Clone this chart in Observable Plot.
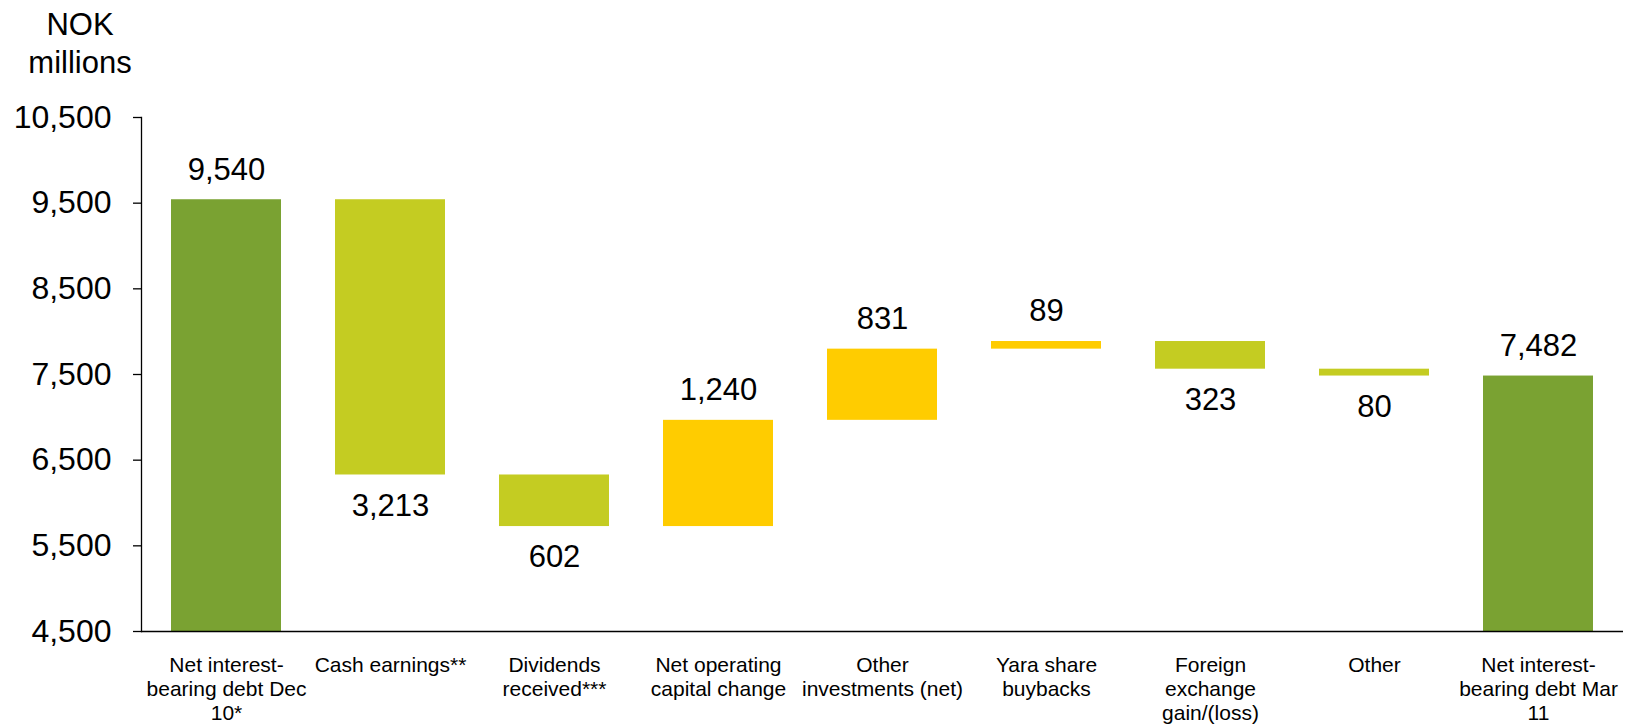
<!DOCTYPE html>
<html>
<head>
<meta charset="utf-8">
<script src="https://cdn.jsdelivr.net/npm/d3@7"></script>
<script src="https://cdn.jsdelivr.net/npm/@observablehq/plot@0.6"></script>
<style>
  html, body { margin: 0; padding: 0; background: #fff; }
  #wrap { position: relative; width: 1626px; height: 728px; font-family: "Liberation Sans", Arial, sans-serif; }
  #unit { position: absolute; left: 0; top: 6px; width: 160px; text-align: center; font-size: 31px; line-height: 38px; color: #000; }
  #chart { position: absolute; left: 0; top: 0; }
</style>
</head>
<body>
<div id="wrap">
  <div id="chart"></div>
  <div id="unit">NOK<br>millions</div>
</div>
<script>
// Data
const categories = [
  "Net interest-\nbearing debt Dec\n10*",
  "Cash earnings**",
  "Dividends\nreceived***",
  "Net operating\ncapital change",
  "Other\ninvestments (net)",
  "Yara share\nbuybacks",
  "Foreign\nexchange\ngain/(loss)",
  "Other",
  "Net interest-\nbearing debt Mar\n11"
];
const changes = [9540, -3213, -602, 1240, 831, 89, -323, -80, 7482];
const kinds = ["total", "decrease", "decrease", "increase", "increase", "increase", "decrease", "decrease", "total"];
const yTicks = [4500, 5500, 6500, 7500, 8500, 9500, 10500];

const colors = { total: "#7aa232", decrease: "#c4cc22", increase: "#ffcc00" };

// Build waterfall rows
let running = 0;
const rows = categories.map((c, i) => {
  const v = changes[i];
  let lo, hi;
  if (kinds[i] === "total") {
    lo = 4500; hi = v; running = v;
  } else {
    const start = running;
    running = start + v;
    lo = Math.min(start, running); hi = Math.max(start, running);
  }
  return { cat: c, value: Math.abs(v), kind: kinds[i], lo, hi, above: kinds[i] !== "decrease" };
});

const chart = Plot.plot({
  width: 1626,
  height: 728,
  marginLeft: 141,
  marginRight: 3,
  marginTop: 117,
  marginBottom: 97,
  style: { fontFamily: "'Liberation Sans', Arial, sans-serif", color: "#000", background: "transparent" },
  x: { domain: categories, paddingInner: 0.33, paddingOuter: 0.165 },
  y: { domain: [4500, 10500] },
  marks: [
    Plot.barY(rows, { x: "cat", y1: "lo", y2: "hi", fill: d => colors[d.kind] }),
    Plot.text(rows.filter(d => d.above), { x: "cat", y: "hi", text: d => d3.format(",")(d.value), dy: -30, fontSize: 31, fill: "#000" }),
    Plot.text(rows.filter(d => !d.above), { x: "cat", y: "lo", text: d => d3.format(",")(d.value), dy: 31, fontSize: 31, fill: "#000" }),
    Plot.axisY({ ticks: yTicks, tickFormat: d3.format(","), tickSize: 8, tickPadding: 22, fontSize: 32, label: null, stroke: "#000", strokeWidth: 1.3 }),
    Plot.axisX({ tickSize: 0, tickPadding: 23, fontSize: 21, lineHeight: 1.15, label: null, textOverflow: null }),
    Plot.ruleY([4500], { stroke: "#000", strokeWidth: 1.3 }),
    Plot.frame({ anchor: "left", stroke: "#000", strokeWidth: 1.3 })
  ]
});
document.getElementById("chart").appendChild(chart);
</script>
</body>
</html>
